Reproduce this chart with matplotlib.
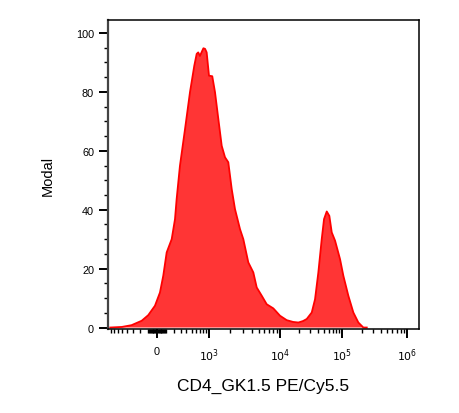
import numpy as np
import matplotlib
matplotlib.use("Agg")
import matplotlib.pyplot as plt

plt.rcParams['font.family'] = ['Liberation Sans', 'DejaVu Sans']

# histogram trace: fluorescence value, % of max (Modal)
fluo = [-820, -512, -329, -181, -100, -22.6, 33.9, 71.6, 111.7, 174, 218, 241, 290,
        374, 468, 562, 620, 660, 706, 809, 863, 918, 1000, 1112, 1215, 1352, 1510,
        1680, 1870, 2089, 2323, 2733, 3043, 3578, 4209, 4698, 5524, 6496, 8050,
        10000, 12810, 16180, 19680, 23390, 26830, 32290, 36460, 41200, 46680,
        50820, 56200, 61850, 67570, 76350, 91850, 103600, 123900, 148200, 177200,
        211800, 239300]
modal = [0, 0.2, 0.8, 2.3, 4.2, 7.4, 11.9, 17.6, 25.5, 30.0, 36.8, 43.6, 54.9,
         67.4, 79.9, 88.9, 92.9, 93.4, 92.2, 94.8, 94.6, 93.4, 85.5, 85.3, 79.9,
         70.9, 61.7, 57.8, 56.1, 47.0, 40.2, 33.4, 30.0, 22.1, 18.7, 13.6, 10.8,
         7.9, 6.5, 4.0, 2.5, 1.9, 1.7, 2.2, 2.9, 5.1, 9.6, 18.7, 30.0, 36.8, 39.4,
         37.9, 32.3, 29.5, 23.2, 17.6, 10.8, 5.1, 1.7, 0.0, 0.0]

x_major = [0, 1e3, 1e4, 1e5, 1e6]
x_labels = ['0', '$10^{3}$', '$10^{4}$', '$10^{5}$', '$10^{6}$']
y_major = [0, 20, 40, 60, 80, 100]

# biexponential-like display: asinh near zero, log above 10^3
A, C = 27.5, 310.0
knots_lg = [3, 4, 5, 6, 7]
knots_p = [52.0, 123.0, 185.3, 249.7, 314.0]


def fwd(x):
    x = np.asarray(x, float)
    lin = A * np.arcsinh(x / C)
    lg = np.interp(np.log10(np.maximum(x, 1000.0)), knots_lg, knots_p)
    return np.where(x < 1000, lin, lg)


def inv(p):
    p = np.asarray(p, float)
    lin = C * np.sinh(np.clip(p, -300, 300) / A)
    lg = 10 ** np.interp(p, knots_p, knots_lg)
    return np.where(p < knots_p[0], lin, lg)


fig = plt.figure(figsize=(4.59, 4.14), dpi=100)
ax = fig.add_axes([0.2353, 0.2029, 0.6776, 0.7464])
ax.set_xscale('function', functions=(fwd, inv))

ax.fill_between(fluo, modal, 0, facecolor='#ff3535', edgecolor='none')
ax.plot(fluo, modal, color='#ff0000', lw=1.3)

ax.set_xlim(-893, 1.55e6)
ax.set_ylim(-0.5, 104.4)

x_minor = list(range(-800, 0, 100)) + list(range(-90, 100, 10)) + list(range(100, 1000, 100))
for d in (1e3, 1e4, 1e5):
    x_minor += [k * d for k in range(2, 10)]
ax.set_xticks(x_major)
ax.set_xticklabels(x_labels)
ax.set_xticks(x_minor, minor=True)
ax.set_yticks(y_major)
ax.set_yticks(np.arange(0, 101, 5), minor=True)

ax.tick_params(axis='both', which='major', direction='out', length=6.5, width=1.4,
               labelsize=7.8, color='black')
ax.tick_params(axis='both', which='minor', direction='out', length=3, width=1,
               color='black')
ax.tick_params(axis='x', which='major', pad=6)
for s in ax.spines.values():
    s.set_linewidth(1.1)
    s.set_color('black')
ax.spines['left'].set_color('#444444')
ax.spines['left'].set_linewidth(1.6)

ax.set_ylabel('Modal', fontsize=10.5, labelpad=15)
ax.set_xlabel('CD4_GK1.5 PE/Cy5.5', fontsize=12.5, labelpad=11)

fig.savefig('out.png', dpi=100)
